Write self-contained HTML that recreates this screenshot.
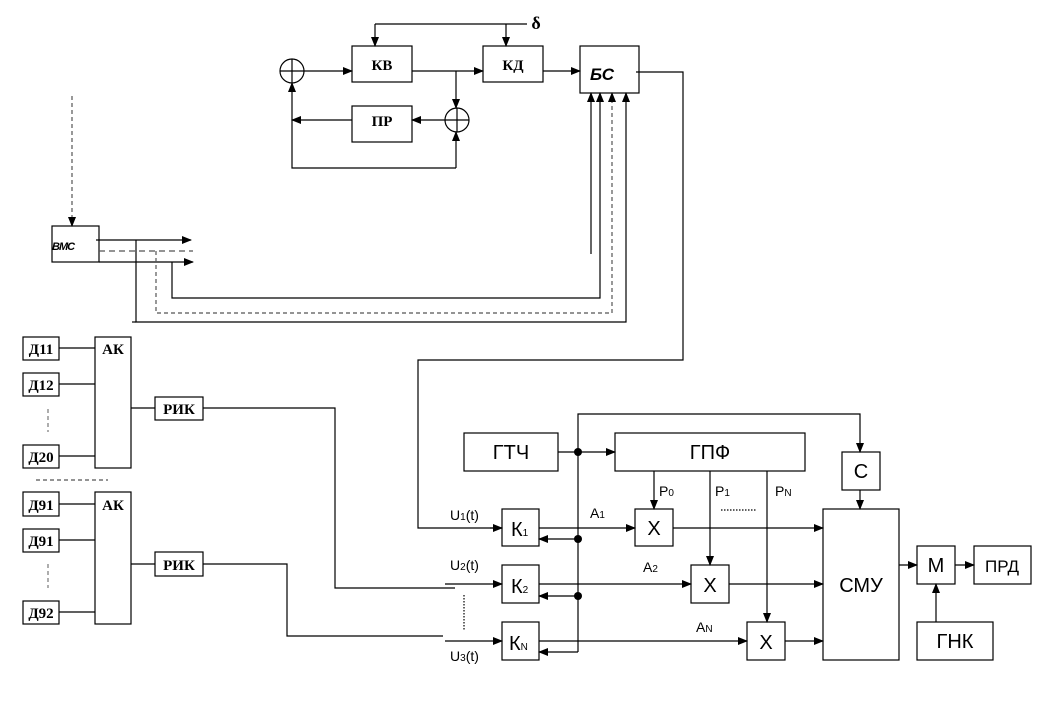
<!DOCTYPE html>
<html><head><meta charset="utf-8"><style>
html,body{margin:0;padding:0;background:#fff;}
svg{display:block;}
.s{font-family:"Liberation Serif",serif;font-weight:bold;}
.a{font-family:"Liberation Sans",sans-serif;}
</style></head><body>
<svg width="1044" height="714" viewBox="0 0 1044 714" xmlns="http://www.w3.org/2000/svg">
<defs>
<marker id="ar" markerWidth="10" markerHeight="8" refX="9" refY="4" orient="auto" markerUnits="userSpaceOnUse"><path d="M0,0 L10,4 L0,8 Z" fill="#000"/></marker>
</defs>
<g stroke="#000" stroke-width="1.2" fill="none">
<!-- top -->
<polyline points="375,24 527,24"/>
<line x1="375" y1="24" x2="375" y2="46" marker-end="url(#ar)"/>
<line x1="506" y1="24" x2="506" y2="46" marker-end="url(#ar)"/>
<rect x="352" y="46" width="60" height="36"/>
<rect x="483" y="46" width="60" height="36"/>
<rect x="580" y="46" width="59" height="47"/>
<rect x="352" y="106" width="60" height="36"/>
<circle cx="292" cy="71" r="12"/><line x1="280" y1="71" x2="304" y2="71"/><line x1="292" y1="59" x2="292" y2="83"/>
<circle cx="457" cy="120" r="12"/><line x1="445" y1="120" x2="469" y2="120"/><line x1="457" y1="108" x2="457" y2="132"/>
<line x1="304" y1="71" x2="352" y2="71" marker-end="url(#ar)"/>
<line x1="412" y1="71" x2="483" y2="71" marker-end="url(#ar)"/>
<line x1="456" y1="71" x2="456" y2="108" marker-end="url(#ar)"/>
<line x1="543" y1="71" x2="580" y2="71" marker-end="url(#ar)"/>
<line x1="445" y1="120" x2="412" y2="120" marker-end="url(#ar)"/>
<line x1="352" y1="120" x2="292" y2="120" marker-end="url(#ar)"/>
<polyline points="456,168 292,168 292,83" marker-end="url(#ar)"/>
<line x1="456" y1="168" x2="456" y2="132" marker-end="url(#ar)"/>
<polyline points="636,72 683,72 683,360 418,360 418,528 502,528" />
<line x1="490" y1="528" x2="502" y2="528" marker-end="url(#ar)"/>
<!-- BMC -->
<line x1="72" y1="96" x2="72" y2="226" stroke-dasharray="4,3" stroke="#555" marker-end="url(#ar)"/>
<rect x="52" y="226" width="47" height="36"/>
<line x1="96" y1="240" x2="191" y2="240" marker-end="url(#ar)"/>
<line x1="99" y1="251" x2="193" y2="251" stroke="#555" stroke-dasharray="6,4"/>
<line x1="99" y1="262" x2="193" y2="262" marker-end="url(#ar)"/>
<polyline points="136,240 136,322 626,322 626,93" marker-end="url(#ar)"/>
<line x1="132" y1="322" x2="136" y2="322"/>
<polyline points="156,251 156,313 612,313 612,93" stroke="#555" stroke-dasharray="4,3" marker-end="url(#ar)"/>
<polyline points="172,262 172,298 600,298 600,93" marker-end="url(#ar)"/>
<line x1="591" y1="254" x2="591" y2="93" marker-end="url(#ar)"/>
<!-- left groups -->
<rect x="23" y="337" width="36" height="23"/><rect x="23" y="373" width="36" height="23"/><rect x="23" y="445" width="36" height="23"/>
<rect x="95" y="337" width="36" height="131"/>
<line x1="59" y1="348" x2="95" y2="348"/><line x1="59" y1="384" x2="95" y2="384"/><line x1="59" y1="456" x2="95" y2="456"/>
<line x1="48" y1="409" x2="48" y2="432" stroke="#777" stroke-dasharray="4,3"/>
<line x1="36" y1="480" x2="108" y2="480" stroke="#555" stroke-dasharray="4,3"/>
<rect x="155" y="397" width="48" height="23"/>
<line x1="131" y1="408" x2="155" y2="408"/>
<polyline points="203,408 335,408 335,588 455,588"/>
<rect x="23" y="492" width="36" height="24"/><rect x="23" y="529" width="36" height="23"/><rect x="23" y="601" width="36" height="23"/>
<rect x="95" y="492" width="36" height="132"/>
<line x1="59" y1="504" x2="95" y2="504"/><line x1="59" y1="540" x2="95" y2="540"/><line x1="59" y1="612" x2="95" y2="612"/>
<line x1="48" y1="564" x2="48" y2="588" stroke="#777" stroke-dasharray="4,3"/>
<rect x="155" y="552" width="48" height="24"/>
<line x1="131" y1="564" x2="155" y2="564"/>
<polyline points="203,564 287,564 287,636 443,636"/>
<!-- bottom right -->
<rect x="464" y="433" width="94" height="38"/>
<rect x="615" y="433" width="190" height="38"/>
<line x1="558" y1="452" x2="615" y2="452" marker-end="url(#ar)"/>
<polyline points="578,652 578,414 860,414 860,452" marker-end="url(#ar)"/>
<rect x="842" y="452" width="38" height="38"/>
<line x1="860" y1="490" x2="860" y2="509" marker-end="url(#ar)"/>
<rect x="823" y="509" width="76" height="151"/>
<rect x="917" y="546" width="38" height="38"/>
<rect x="974" y="546" width="57" height="38"/>
<rect x="917" y="622" width="76" height="38"/>
<line x1="899" y1="565" x2="917" y2="565" marker-end="url(#ar)"/>
<line x1="955" y1="565" x2="974" y2="565" marker-end="url(#ar)"/>
<line x1="936" y1="622" x2="936" y2="584" marker-end="url(#ar)"/>
<rect x="502" y="509" width="37" height="37"/>
<rect x="502" y="565" width="37" height="38"/>
<rect x="502" y="622" width="37" height="38"/>
<rect x="635" y="509" width="38" height="37"/>
<rect x="691" y="565" width="38" height="38"/>
<rect x="747" y="622" width="38" height="38"/>
<line x1="445" y1="584" x2="502" y2="584" marker-end="url(#ar)"/>
<line x1="445" y1="641" x2="502" y2="641" marker-end="url(#ar)"/>
<line x1="578" y1="539" x2="539" y2="539" marker-end="url(#ar)"/>
<line x1="578" y1="596" x2="539" y2="596" marker-end="url(#ar)"/>
<line x1="578" y1="652" x2="539" y2="652" marker-end="url(#ar)"/>
<line x1="539" y1="528" x2="635" y2="528" marker-end="url(#ar)"/>
<line x1="539" y1="584" x2="691" y2="584" marker-end="url(#ar)"/>
<line x1="539" y1="641" x2="747" y2="641" marker-end="url(#ar)"/>
<line x1="673" y1="528" x2="823" y2="528" marker-end="url(#ar)"/>
<line x1="729" y1="584" x2="823" y2="584" marker-end="url(#ar)"/>
<line x1="785" y1="641" x2="823" y2="641" marker-end="url(#ar)"/>
<line x1="654" y1="471" x2="654" y2="509" marker-end="url(#ar)"/>
<line x1="710" y1="471" x2="710" y2="565" marker-end="url(#ar)"/>
<line x1="767" y1="471" x2="767" y2="622" marker-end="url(#ar)"/>
<line x1="721" y1="510" x2="757" y2="510" stroke-dasharray="1.5,1.5"/>
<line x1="464" y1="595" x2="464" y2="630" stroke-dasharray="1.5,1.5"/>
</g>
<g fill="#000">
<circle cx="578" cy="452" r="4"/><circle cx="578" cy="539" r="4"/><circle cx="578" cy="596" r="4"/>
</g>
<g class="s" font-size="15" text-anchor="middle">
<text x="382" y="70">КВ</text><text x="513" y="70">КД</text><text x="382" y="126">ПР</text>
<text x="536" y="29" font-size="18">δ</text>
<text x="41" y="354">Д11</text><text x="41" y="390">Д12</text><text x="41" y="462">Д20</text>
<text x="41" y="510">Д91</text><text x="41" y="546">Д91</text><text x="41" y="618">Д92</text>
<text x="113" y="354">АК</text><text x="113" y="510">АК</text>
<text x="179" y="414">РИК</text><text x="179" y="570">РИК</text>
</g>
<text x="590" y="80" class="a" font-size="17" font-weight="bold" font-style="italic">БС</text>
<text x="52" y="250" class="a" font-size="11" font-weight="bold" font-style="italic" letter-spacing="-1">ВМС</text>
<g class="a" text-anchor="middle" font-size="20">
<text x="511" y="459">ГТЧ</text><text x="710" y="459">ГПФ</text>
<text x="861" y="478">С</text><text x="861" y="592">СМУ</text>
<text x="936" y="572">М</text><text x="955" y="648">ГНК</text>
<text x="1002" y="572" font-size="17">ПРД</text>
<text x="654" y="535">X</text><text x="710" y="592">X</text><text x="766" y="649">X</text>
</g>
<g class="a" font-size="20">
<text x="511" y="536">К<tspan font-size="10">1</tspan></text>
<text x="511" y="593">К<tspan font-size="10">2</tspan></text>
<text x="509" y="650">К<tspan font-size="10">N</tspan></text>
</g>
<g class="a" font-size="14">
<text x="450" y="520">U<tspan font-size="10">1</tspan>(t)</text>
<text x="450" y="570">U<tspan font-size="10">2</tspan>(t)</text>
<text x="450" y="661">U<tspan font-size="10">3</tspan>(t)</text>
<text x="590" y="518">A<tspan font-size="10">1</tspan></text>
<text x="643" y="572">A<tspan font-size="10">2</tspan></text>
<text x="696" y="632">A<tspan font-size="10">N</tspan></text>
<text x="659" y="496">P<tspan font-size="10">0</tspan></text>
<text x="715" y="496">P<tspan font-size="10">1</tspan></text>
<text x="775" y="496">P<tspan font-size="10">N</tspan></text>
</g>
</svg>
</body></html>
